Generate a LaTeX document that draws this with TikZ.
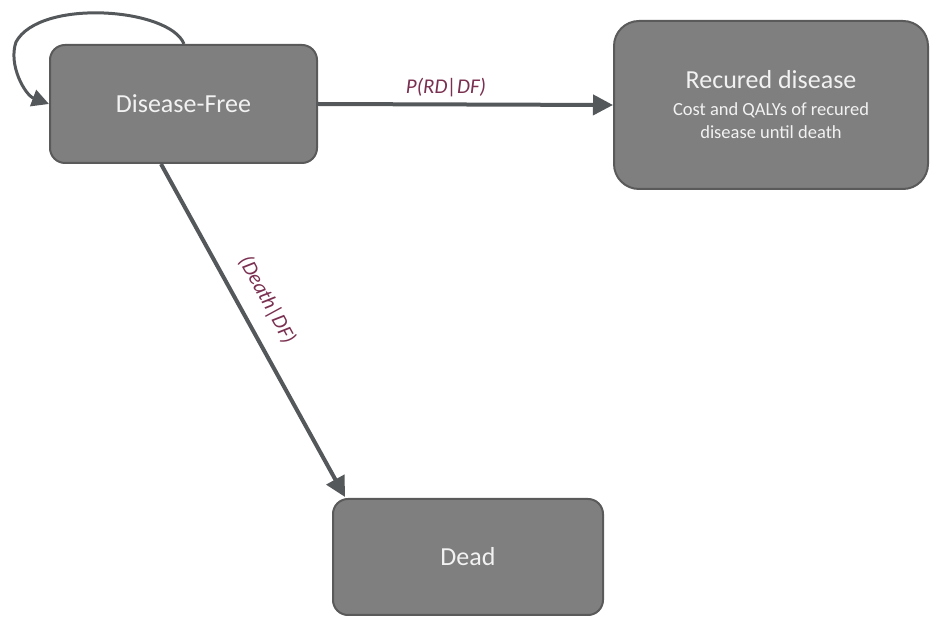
\documentclass[tikz,border=0pt]{standalone}
\usepackage{fontspec}
\setmainfont{Carlito}
\usetikzlibrary{arrows.meta,calc}
\definecolor{boxfill}{RGB}{127,127,127}
\definecolor{boxline}{RGB}{90,90,90}
\definecolor{arrowc}{RGB}{84,88,90}
\definecolor{labelc}{RGB}{122,48,80}
\definecolor{txt}{RGB}{242,242,242}
\tikzset{
  state/.style={draw=boxline, line width=2pt, fill=boxfill, rounded corners=15pt,
    text=txt, align=center, inner sep=0pt},
  conn/.style={draw=arrowc, line width=4pt, -{Triangle[length=20pt,width=20pt]}},
  lbl/.style={text=labelc, font=\fontsize{21}{23}\selectfont\itshape}
}
\begin{document}
\begin{tikzpicture}[x=1pt,y=-1pt]
\useasboundingbox (0,0) rectangle (930,617);
\node[state, minimum width=267pt, minimum height=118pt, font=\fontsize{26}{28}\selectfont]
  (df) at (183.5,104) {Disease-Free};
\node[state, rounded corners=25pt, minimum width=314pt, minimum height=168pt,
  font=\fontsize{18.5}{23}\selectfont]
  (rd) at (771,105) {{\fontsize{26}{28}\selectfont Recured disease}\\[4pt]
  Cost and QALYs of recured\\
  disease until death};
\node[state, minimum width=270pt, minimum height=116pt, font=\fontsize{26}{28}\selectfont]
  (dead) at (468,557) {Dead};
% transitions
\draw[conn] (df.east) -- (rd.west);
\node[lbl] (lrd) at (446,88) {P(RD|DF)};
\coordinate (dstart) at ($(df.south west)+(112,0)$);
\coordinate (dend) at ($(dead.north west)+(13,-1)$);
\draw[conn] (dstart) -- (dend);
\node[lbl, rotate=-61.4] (ldeath) at (267,300) {(Death|DF)};
% self loop
\coordinate (lstart) at ($(df.north west)+(135,0)$);
\draw[conn, line width=3pt, -{Triangle[length=17pt,width=17pt]}]
  (lstart) .. controls (170,8) and (40,-2) .. (16,42)
  .. controls (8,65) and (25,95) .. (df.west);
\end{tikzpicture}
\end{document}
